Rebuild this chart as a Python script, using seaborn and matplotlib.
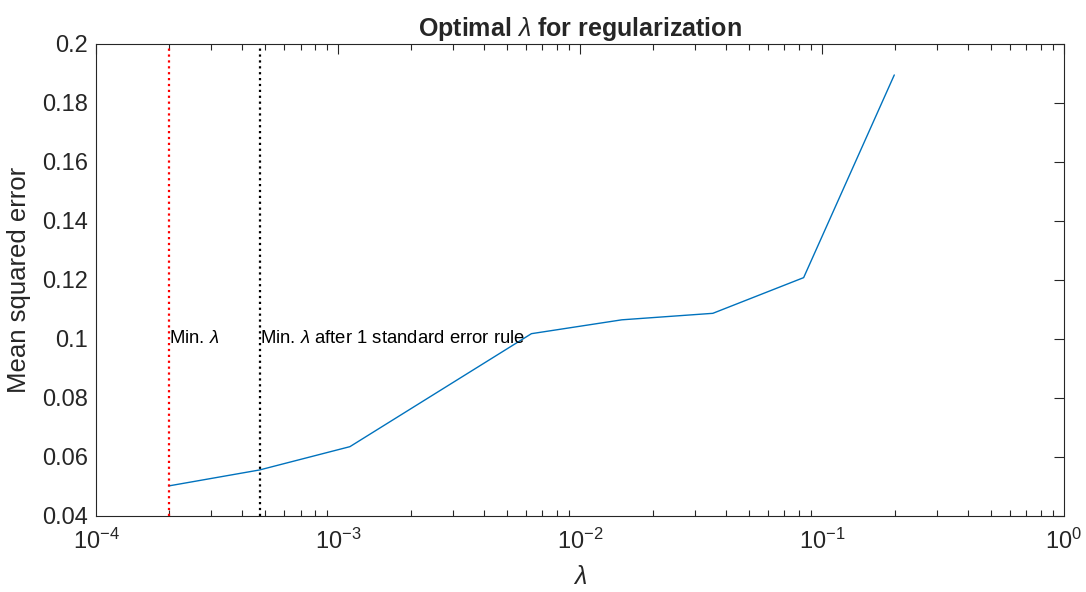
import matplotlib
matplotlib.use("Agg")
import matplotlib.pyplot as plt
import seaborn as sns
import numpy as np
import pandas as pd
from matplotlib.ticker import LogLocator, FixedLocator

# Data
lambdas = [2.0e-4, 4.74e-4, 1.12e-3, 6.3e-3, 1.49e-2, 3.54e-2, 8.4e-2, 0.199]
mse = [0.0502, 0.0556, 0.0635, 0.1018, 0.1065, 0.1087, 0.1208, 0.1895]
lambda_min = 2.0e-4
lambda_1se = 4.74e-4
label_min = "Min. $\\lambda$"
label_1se = "Min. $\\lambda$ after 1 standard error rule"
yticks = [0.04, 0.06, 0.08, 0.1, 0.12, 0.14, 0.16, 0.18, 0.2]
ytick_labels = ["0.04", "0.06", "0.08", "0.1", "0.12", "0.14", "0.16", "0.18", "0.2"]
xticks = [1e-4, 1e-3, 1e-2, 1e-1, 1e0]
xtick_labels = ["$10^{-4}$", "$10^{-3}$", "$10^{-2}$", "$10^{-1}$", "$10^{0}$"]

sns.set_theme(style="white")
plt.rcParams['font.family'] = ['Liberation Sans', 'DejaVu Sans']
plt.rcParams['mathtext.fontset'] = 'custom'
plt.rcParams['mathtext.rm'] = 'Liberation Sans'
plt.rcParams['mathtext.it'] = 'Liberation Sans:italic'
plt.rcParams['mathtext.bf'] = 'Liberation Sans:bold'

fig = plt.figure(figsize=(10.86, 5.92), dpi=100)
ax = fig.add_axes([0.0884, 0.1284, 0.9797 - 0.0884, 0.9257 - 0.1284])

df = pd.DataFrame({"lam": lambdas, "mse": mse})
sns.lineplot(data=df, x="lam", y="mse", ax=ax, color="#0072BD", linewidth=1.0, sort=False)

ax.set_xscale("log")
ax.set_xlim(1e-4, 1)
ax.set_ylim(0.04, 0.2)

ax.axvline(lambda_min, color="red", linestyle=":", linewidth=1.6)
ax.axvline(lambda_1se, color="black", linestyle=":", linewidth=1.6)
ax.text(lambda_min, 0.1, label_min, va="center", ha="left", fontsize=13.3, color="black")
ax.text(lambda_1se, 0.1, label_1se, va="center", ha="left", fontsize=13.3, color="black")

ax.xaxis.set_major_locator(FixedLocator(xticks))
ax.set_xticklabels(xtick_labels)
ax.xaxis.set_minor_locator(LogLocator(base=10, subs=np.arange(2, 10), numticks=20))
ax.yaxis.set_major_locator(FixedLocator(yticks))
ax.set_yticklabels(ytick_labels)

ax.tick_params(axis="both", which="both", direction="in", top=True, right=True,
               colors="#262626", labelcolor="#262626")
ax.tick_params(axis="both", which="major", length=7, width=0.8, labelsize=17)
ax.tick_params(axis="x", which="major", pad=9)
ax.tick_params(axis="y", which="major", pad=6)
ax.tick_params(axis="both", which="minor", length=4, width=0.8)
ax.tick_params(axis="x", which="minor", bottom=True, top=True)

for s in ax.spines.values():
    s.set_visible(True)
    s.set_color("#262626")
    s.set_linewidth(0.8)

ax.set_xlabel("$\\lambda$", fontsize=18, color="#262626", labelpad=8)
ax.set_ylabel("Mean squared error", fontsize=18.5, color="#262626", labelpad=8)
ax.set_title("Optimal $\\lambda$ for regularization", fontsize=18, fontweight="bold", pad=6)
ax.grid(False)

fig.savefig("out.png", dpi=100, facecolor="white")
